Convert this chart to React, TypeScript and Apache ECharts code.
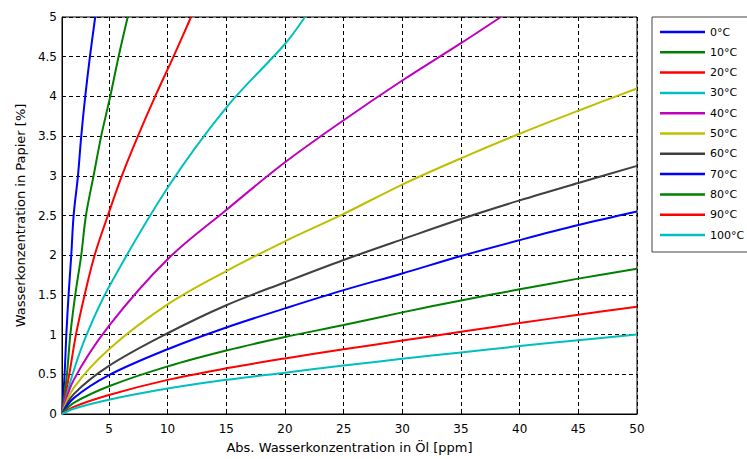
import React, { useEffect, useRef } from 'react';
import * as echarts from 'echarts';

const LABELS = ['0°C', '10°C', '20°C', '30°C', '40°C', '50°C', '60°C', '70°C', '80°C', '90°C', '100°C'];
const COLORS = ['#0000ff', '#008000', '#ff0000', '#00bfbf', '#bf00bf', '#bfbf00', '#404040', '#0000ff', '#008000', '#ff0000', '#00bfbf'];

const T0 = [[1, 0], [1.22, 0.5], [1.37, 1], [1.56, 1.5], [1.79, 2], [1.99, 2.5], [2.36, 3], [2.64, 3.5], [2.98, 4], [3.38, 4.5], [3.83, 5]];
const T10 = [[1, 0], [1.42, 0.5], [1.71, 1], [2.13, 1.5], [2.64, 2], [3.04, 2.5], [3.69, 3], [4.34, 3.5], [5.11, 4], [5.82, 4.5], [6.6, 5]];
const T20 = [[1, 0], [1.62, 0.5], [2.19, 1], [2.93, 1.5], [3.78, 2], [4.91, 2.5], [6.1, 3], [7.47, 3.5], [8.94, 4], [10.5, 4.5], [12, 5]];
const T30 = [[1, 0], [1.9, 0.5], [3.1, 1], [5, 1.6], [10, 2.85], [15, 3.86], [20, 4.66], [21.7, 5]];
const T40 = [[1, 0], [2, 0.43], [5, 1.11], [10, 1.95], [15, 2.57], [20, 3.17], [25, 3.7], [30, 4.2], [35, 4.67], [38.4, 5]];
const T50 = [[1, 0], [2, 0.33], [5, 0.816], [10, 1.38], [15, 1.8], [20, 2.175], [25, 2.52], [30, 2.89], [35, 3.22], [40, 3.53], [45, 3.82], [50, 4.1]];
const T60 = [[1, 0], [2, 0.25], [5, 0.606], [10, 1.017], [15, 1.37], [20, 1.66], [25, 1.94], [30, 2.2], [35, 2.455], [40, 2.69], [45, 2.91], [50, 3.125]];
const T70 = [[1, 0], [2, 0.2], [5, 0.49], [10, 0.816], [15, 1.09], [20, 1.33], [25, 1.56], [30, 1.77], [35, 1.99], [40, 2.19], [45, 2.38], [50, 2.55]];
const T80 = [[1, 0], [2, 0.14], [5, 0.35], [10, 0.6], [15, 0.8], [20, 0.97], [25, 1.12], [30, 1.28], [35, 1.43], [40, 1.57], [45, 1.705], [50, 1.83]];
const T90 = [[1, 0], [2, 0.09], [5, 0.24], [10, 0.43], [15, 0.575], [20, 0.7], [25, 0.815], [30, 0.925], [35, 1.035], [40, 1.145], [45, 1.25], [50, 1.35]];
const T100 = [[1, 0], [2, 0.067], [5, 0.18], [10, 0.32], [15, 0.43], [20, 0.52], [25, 0.61], [30, 0.695], [35, 0.775], [40, 0.855], [45, 0.93], [50, 1.0]];
const SERIES_DATA = [T0, T10, T20, T30, T40, T50, T60, T70, T80, T90, T100];

const X_TICKS = [5, 10, 15, 20, 25, 30, 35, 40, 45, 50];
const X_NAME = 'Abs. Wasserkonzentration in Öl [ppm]';
const Y_NAME = 'Wasserkonzentration in Papier [%]';

export default function App() {
  const ref = useRef<HTMLDivElement>(null);
  useEffect(() => {
    const chart = echarts.init(ref.current!, null, { renderer: 'svg' });
    const font = 'DejaVu Sans';
    chart.setOption({
      animation: false,
      backgroundColor: '#fff',
      textStyle: { fontFamily: font },
      grid: {
        left: 62, top: 17, right: 110, bottom: 44,
        show: true, borderColor: '#000', borderWidth: 1, backgroundColor: 'transparent',
      },
      legend: {
        orient: 'vertical', left: 652, top: 17,
        icon: 'rect',
        itemWidth: 45, itemHeight: 2.5, itemGap: 6.3,
        padding: [8, 20, 10, 8],
        borderColor: '#444', borderWidth: 1, backgroundColor: '#fff', borderRadius: 0,
        textStyle: { fontSize: 11, lineHeight: 14, color: '#000', fontFamily: font },
        data: LABELS,
      },
      xAxis: {
        type: 'value', min: 1, max: 50,
        name: X_NAME, nameLocation: 'middle', nameGap: 27,
        nameTextStyle: { fontSize: 13, color: '#000', fontFamily: font },
        axisLine: { show: true, lineStyle: { color: '#000' } },
        axisTick: { show: true, inside: true, length: 4, customValues: X_TICKS, lineStyle: { color: '#000' } },
        axisLabel: { customValues: X_TICKS, color: '#000', fontSize: 12, margin: 9, fontFamily: font },
        splitLine: { show: true, lineStyle: { color: '#000', type: [4, 3], width: 1 } },
      },
      yAxis: {
        type: 'value', min: 0, max: 5, interval: 0.5,
        name: Y_NAME, nameLocation: 'middle', nameGap: 35,
        nameTextStyle: { fontSize: 13, color: '#000', fontFamily: font },
        axisLine: { show: true, lineStyle: { color: '#000' } },
        axisTick: { show: true, inside: true, length: 4, lineStyle: { color: '#000' } },
        axisLabel: { color: '#000', fontSize: 12, margin: 5, fontFamily: font },
        splitLine: { show: true, lineStyle: { color: '#000', type: [4, 3], width: 1 } },
      },
      series: SERIES_DATA.map((d, i) => ({
        name: LABELS[i],
        type: 'line',
        data: d,
        symbol: 'none',
        smooth: 0.35,
        color: COLORS[i],
        lineStyle: { color: COLORS[i], width: 2 },
        clip: true,
      })),
    });
    return () => chart.dispose();
  }, []);
  return <div ref={ref} style={{ position: 'fixed', left: 0, top: 0, width: 747, height: 459 }} />;
}
